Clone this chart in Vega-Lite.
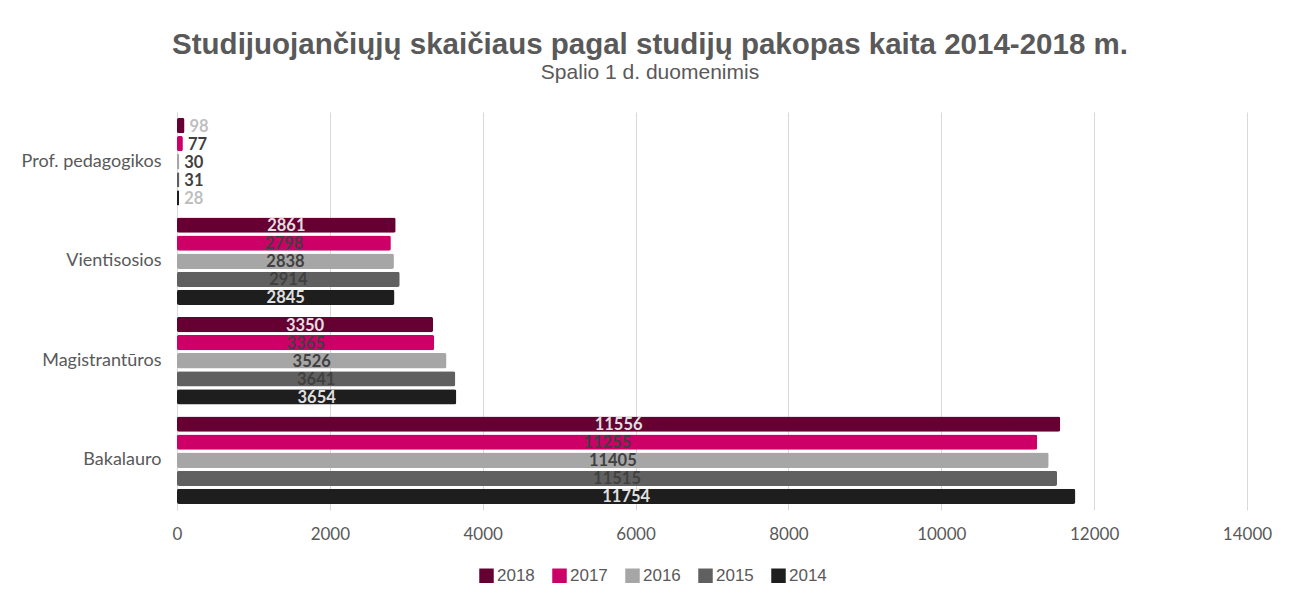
{
  "$schema": "https://vega.github.io/schema/vega-lite/v6.json",
  "width": 1070,
  "height": 398,
  "autosize": {"type": "none"},
  "padding": {"left": 177, "top": 112, "right": 44, "bottom": 90},
  "background": "#ffffff",
  "title": {
    "text": "Studijuojančiųjų skaičiaus pagal studijų pakopas kaita 2014-2018 m.",
    "subtitle": "Spalio 1 d. duomenimis",
    "font": "Liberation Sans",
    "fontSize": 29.5,
    "fontWeight": "bold",
    "color": "#595959",
    "subtitleFont": "Liberation Sans",
    "subtitleFontSize": 21,
    "subtitleColor": "#595959",
    "subtitlePadding": 2,
    "anchor": "middle",
    "dx": -62,
    "offset": 28
  },
  "data": {
    "values": [
      {"pakopa": "Prof. pedagogikos", "metai": "2018", "reiksme": 98},
      {"pakopa": "Prof. pedagogikos", "metai": "2017", "reiksme": 77},
      {"pakopa": "Prof. pedagogikos", "metai": "2016", "reiksme": 30},
      {"pakopa": "Prof. pedagogikos", "metai": "2015", "reiksme": 31},
      {"pakopa": "Prof. pedagogikos", "metai": "2014", "reiksme": 28},
      {"pakopa": "Vientisosios", "metai": "2018", "reiksme": 2861},
      {"pakopa": "Vientisosios", "metai": "2017", "reiksme": 2798},
      {"pakopa": "Vientisosios", "metai": "2016", "reiksme": 2838},
      {"pakopa": "Vientisosios", "metai": "2015", "reiksme": 2914},
      {"pakopa": "Vientisosios", "metai": "2014", "reiksme": 2845},
      {"pakopa": "Magistrantūros", "metai": "2018", "reiksme": 3350},
      {"pakopa": "Magistrantūros", "metai": "2017", "reiksme": 3365},
      {"pakopa": "Magistrantūros", "metai": "2016", "reiksme": 3526},
      {"pakopa": "Magistrantūros", "metai": "2015", "reiksme": 3641},
      {"pakopa": "Magistrantūros", "metai": "2014", "reiksme": 3654},
      {"pakopa": "Bakalauro", "metai": "2018", "reiksme": 11556},
      {"pakopa": "Bakalauro", "metai": "2017", "reiksme": 11255},
      {"pakopa": "Bakalauro", "metai": "2016", "reiksme": 11405},
      {"pakopa": "Bakalauro", "metai": "2015", "reiksme": 11515},
      {"pakopa": "Bakalauro", "metai": "2014", "reiksme": 11754}
    ]
  },
  "encoding": {
    "y": {
      "field": "pakopa",
      "type": "nominal",
      "sort": ["Prof. pedagogikos", "Vientisosios", "Magistrantūros", "Bakalauro"],
      "scale": {"paddingInner": 0.1, "paddingOuter": 0.05},
      "axis": {
        "title": null,
        "ticks": false,
        "domain": true,
        "domainColor": "#d9d9d9",
        "domainWidth": 1,
        "labelFont": "Lato",
        "labelFontSize": 18,
        "labelColor": "#595959",
        "labelPadding": 16
      }
    },
    "yOffset": {
      "field": "metai",
      "type": "nominal",
      "sort": ["2018", "2017", "2016", "2015", "2014"],
      "scale": {"paddingInner": 0.15, "paddingOuter": 0.05}
    }
  },
  "layer": [
    {
      "mark": {"type": "bar", "cornerRadius": 2},
      "encoding": {
        "x": {
          "field": "reiksme",
          "type": "quantitative",
          "scale": {"domain": [0, 14000], "nice": false},
          "axis": {
            "title": null,
            "values": [0, 2000, 4000, 6000, 8000, 10000, 12000, 14000],
            "format": "d",
            "domain": false,
            "ticks": false,
            "grid": true,
            "gridColor": "#d9d9d9",
            "gridWidth": 1,
            "labelFlush": false,
            "labelFont": "Lato",
            "labelFontSize": 17,
            "labelColor": "#595959",
            "labelPadding": 16
          }
        },
        "color": {
          "field": "metai",
          "type": "nominal",
          "sort": ["2018", "2017", "2016", "2015", "2014"],
          "scale": {
            "domain": ["2018", "2017", "2016", "2015", "2014"],
            "range": ["#660033", "#cc0066", "#a6a6a6", "#606060", "#1e1e1e"]
          },
          "legend": {
            "title": null,
            "orient": "none",
            "direction": "horizontal",
            "legendX": 301,
            "legendY": 455,
            "symbolType": "square",
            "symbolSize": 210,
            "symbolStrokeWidth": 0,
            "symbolOpacity": 1,
            "labelFont": "Liberation Sans",
            "labelFontSize": 17,
            "labelColor": "#595959",
            "labelOffset": 2,
            "columnPadding": 16
          }
        }
      }
    },
    {
      "transform": [
        {"filter": "datum.reiksme >= 500"},
        {"calculate": "datum.reiksme / 2", "as": "vidurys"}
      ],
      "mark": {"type": "text", "font": "Lato", "fontWeight": "bold", "fontSize": 16.5, "align": "center", "baseline": "middle", "dy": 1},
      "encoding": {
        "x": {"field": "vidurys", "type": "quantitative"},
        "text": {"field": "reiksme", "type": "quantitative", "format": "d"},
        "color": {
          "condition": {"test": "datum.metai === '2018' || datum.metai === '2014'", "value": "#e0e0e0"},
          "value": "#404040"
        }
      }
    },
    {
      "transform": [{"filter": "datum.reiksme < 500"}],
      "mark": {"type": "text", "font": "Lato", "fontWeight": "bold", "fontSize": 16.5, "align": "left", "baseline": "middle", "dx": 5, "dy": 1},
      "encoding": {
        "x": {"field": "reiksme", "type": "quantitative"},
        "text": {"field": "reiksme", "type": "quantitative", "format": "d"},
        "color": {
          "condition": {"test": "datum.metai === '2018' || datum.metai === '2014'", "value": "#bfbfbf"},
          "value": "#404040"
        }
      }
    }
  ],
  "config": {
    "view": {"stroke": null}
  }
}
